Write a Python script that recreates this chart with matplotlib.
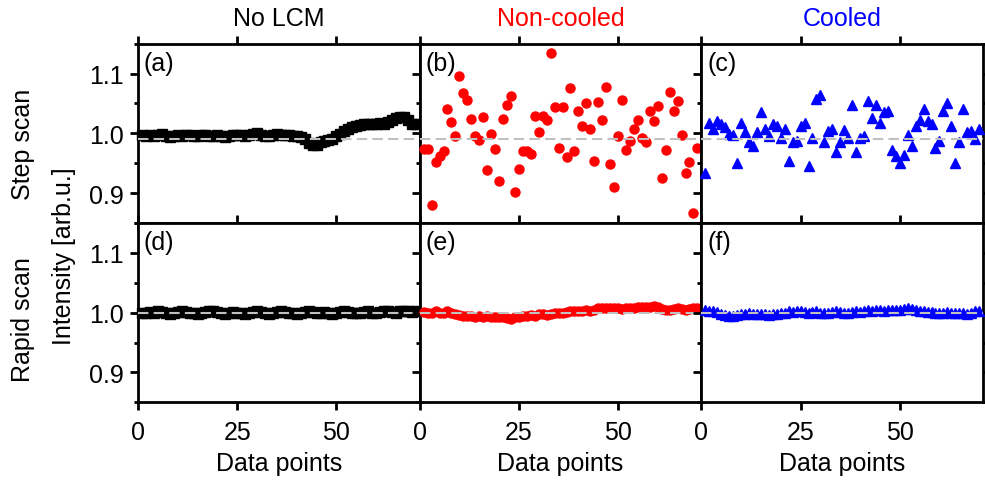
import numpy as np
import matplotlib
matplotlib.use('Agg')
import matplotlib.pyplot as plt
from matplotlib.ticker import MultipleLocator

plt.rcParams['font.family'] = ['Liberation Sans', 'DejaVu Sans']

# data points 1..70 in every panel
points = np.arange(1, 71)
columns = ['No LCM', 'Non-cooled', 'Cooled']
column_colors = ['black', 'red', 'blue']
row_names = ['Step scan', 'Rapid scan']
panel_labels = ['(a)', '(b)', '(c)', '(d)', '(e)', '(f)']
xticks = [0, 25, 50]
yticks = [0.9, 1.0, 1.1]
ref_levels = [0.99, 1.0]   # grey dashed guide per row

step_no_lcm = [
    0.997, 0.996, 0.998, 0.995, 0.997, 0.999, 0.996, 0.994, 0.996, 0.997,
    0.996, 0.998, 0.997, 0.995, 0.996, 0.997, 0.998, 0.996, 0.995, 0.997,
    0.996, 0.994, 0.996, 0.997, 0.998, 0.997, 0.996, 0.998, 0.999, 1.000,
    0.998, 0.995, 0.996, 0.997, 0.999, 0.998, 0.997, 0.998, 0.996, 0.995,
    0.994, 0.990, 0.984, 0.980, 0.981, 0.985, 0.987, 0.989, 0.991, 0.995,
    0.999, 1.004, 1.007, 1.010, 1.013, 1.014, 1.015, 1.016, 1.015, 1.016,
    1.017, 1.016, 1.019, 1.023, 1.025, 1.027, 1.028, 1.022, 1.015, 1.016,
]
step_noncooled = [
    0.973, 0.973, 0.880, 0.952, 0.962, 0.971, 1.040, 1.019, 0.995, 1.096,
    1.068, 1.055, 1.024, 0.995, 0.989, 1.027, 0.938, 0.999, 0.973, 0.920,
    1.024, 1.048, 1.063, 0.902, 0.941, 0.971, 0.970, 0.966, 1.029, 1.002,
    1.029, 1.023, 1.134, 1.044, 0.975, 1.044, 0.961, 1.076, 0.971, 1.037,
    1.012, 1.050, 1.007, 0.954, 1.053, 1.023, 1.078, 0.949, 0.911, 0.995,
    1.055, 0.972, 0.987, 1.007, 1.023, 0.993, 0.985, 1.038, 1.021, 1.046,
    0.925, 0.972, 1.070, 1.037, 1.054, 0.998, 0.934, 0.952, 0.867, 0.975,
]
step_cooled = [
    0.933, 1.017, 1.007, 1.020, 1.016, 1.011, 0.999, 0.997, 0.951, 1.017,
    1.003, 0.985, 0.978, 1.002, 1.036, 1.007, 0.996, 1.016, 1.013, 0.993,
    1.008, 0.954, 0.985, 0.987, 1.013, 1.017, 0.946, 0.993, 1.058, 1.064,
    0.985, 1.004, 1.008, 0.968, 0.985, 1.006, 0.993, 1.047, 0.969, 0.993,
    0.995, 1.054, 1.025, 1.048, 1.017, 1.036, 1.038, 0.972, 0.962, 0.951,
    0.963, 0.997, 0.978, 1.013, 1.023, 1.041, 1.021, 1.016, 0.976, 0.987,
    1.038, 1.051, 1.012, 0.950, 0.985, 1.041, 1.003, 1.004, 0.990, 1.007,
]
rapid_no_lcm = [
    1.000, 0.999, 1.001, 1.000, 1.002, 1.001, 0.999, 0.998, 1.000, 1.001,
    1.002, 1.001, 1.000, 0.999, 0.998, 1.000, 1.001, 1.002, 1.003, 1.001,
    0.999, 0.998, 1.000, 1.001, 1.000, 0.999, 0.998, 0.999, 1.001, 1.002,
    1.001, 1.000, 0.998, 0.999, 1.001, 1.002, 1.001, 1.000, 0.999, 0.998,
    1.000, 1.001, 1.002, 1.001, 0.999, 1.000, 1.001, 1.000, 0.998, 0.999,
    1.001, 1.002, 1.001, 1.000, 0.999, 1.000, 1.001, 1.002, 1.000, 0.999,
    1.001, 1.003, 1.002, 1.001, 1.000, 1.002, 1.003, 1.002, 1.001, 1.002,
]
rapid_noncooled = [
    1.001, 0.999, 1.000, 1.002, 0.999, 1.000, 1.002, 0.999, 0.998, 0.996,
    0.995, 0.994, 0.995, 0.993, 0.994, 0.993, 0.994, 0.993, 0.992, 0.993,
    0.992, 0.991, 0.990, 0.992, 0.993, 0.995, 0.994, 0.996, 0.995, 0.997,
    0.998, 0.996, 0.998, 0.999, 1.000, 0.999, 1.001, 1.002, 1.003, 1.002,
    1.003, 1.004, 1.003, 1.004, 1.007, 1.008, 1.007, 1.008, 1.007, 1.008,
    1.006, 1.007, 1.008, 1.007, 1.009, 1.010, 1.009, 1.010, 1.011, 1.009,
    1.006, 1.005, 1.004, 1.006, 1.008, 1.006, 1.004, 1.006, 1.007, 1.008,
]
rapid_cooled = [
    1.004, 1.003, 1.002, 1.001, 0.998, 0.996, 0.995, 0.995, 0.996, 0.997,
    0.998, 0.999, 0.998, 0.998, 0.997, 0.997, 0.996, 0.997, 0.998, 0.999,
    1.000, 1.002, 1.001, 1.003, 1.002, 1.001, 1.000, 1.001, 1.002, 1.000,
    0.999, 1.000, 1.001, 1.002, 1.001, 1.000, 0.999, 1.001, 1.002, 1.001,
    1.003, 1.004, 1.003, 1.005, 1.004, 1.003, 1.004, 1.005, 1.004, 1.005,
    1.006, 1.007, 1.006, 1.005, 1.003, 1.002, 1.001, 1.001, 1.000, 0.999,
    1.000, 1.001, 1.000, 0.999, 1.000, 0.999, 0.998, 1.000, 1.002, 1.003,
]

series = [[step_no_lcm, step_noncooled, step_cooled],
          [rapid_no_lcm, rapid_noncooled, rapid_cooled]]
markers = ['s', 'o', '^']
msizes = [6.8, 6.5, 7.8]

W, H = 985, 481
fig = plt.figure(figsize=(W / 100, H / 100), dpi=100)

left0, pw = 138, 281.7
row_top = [44.7, 224.0]
ph = 179.3
fs = 18

for r in range(2):
    for c in range(3):
        x0 = left0 + c * pw
        ax = fig.add_axes([x0 / W, 1 - (row_top[r] + ph) / H, pw / W, ph / H])
        ax.plot(points, series[r][c], ls='none', marker=markers[c],
                ms=msizes[c], color=column_colors[c], mec=column_colors[c],
                clip_on=False, zorder=3)
        ax.axhline(ref_levels[r], color='#c0c0c0', lw=1.5,
                   ls=(0, (5, 2.5)), zorder=4)
        ax.set_xlim(0, 71)
        ax.set_ylim(0.85, 1.15)
        ax.set_xticks(xticks)
        ax.set_yticks(yticks)
        ax.yaxis.set_minor_locator(MultipleLocator(0.05))
        ax.tick_params(which='both', direction='out', top=True, right=True,
                       width=2, labelsize=fs)
        ax.tick_params(which='major', length=6)
        ax.tick_params(axis='x', which='major', pad=7)
        ax.tick_params(axis='y', which='major', pad=4)
        ax.tick_params(which='minor', length=3)
        for s in ax.spines.values():
            s.set_linewidth(2)
        if c > 0:
            ax.set_yticklabels([])
        if r == 0:
            ax.set_xticklabels([])
        else:
            ax.set_xlabel('Data points', fontsize=fs, labelpad=5)
        ax.text(0.02, 0.96, panel_labels[r * 3 + c], transform=ax.transAxes,
                ha='left', va='top', fontsize=fs)

for c in range(3):
    fig.text((left0 + (c + 0.5) * pw) / W, 1 - 19 / H, columns[c],
             color=column_colors[c], ha='center', va='center', fontsize=fs)

fig.text(23 / W, 1 - 144 / H, row_names[0], rotation=90,
         ha='center', va='center', fontsize=fs)
fig.text(23 / W, 1 - 320 / H, row_names[1], rotation=90,
         ha='center', va='center', fontsize=fs)
fig.text(64 / W, 1 - 256 / H, 'Intensity [arb.u.]', rotation=90,
         ha='center', va='center', fontsize=fs)

fig.savefig('out.png', dpi=100)
